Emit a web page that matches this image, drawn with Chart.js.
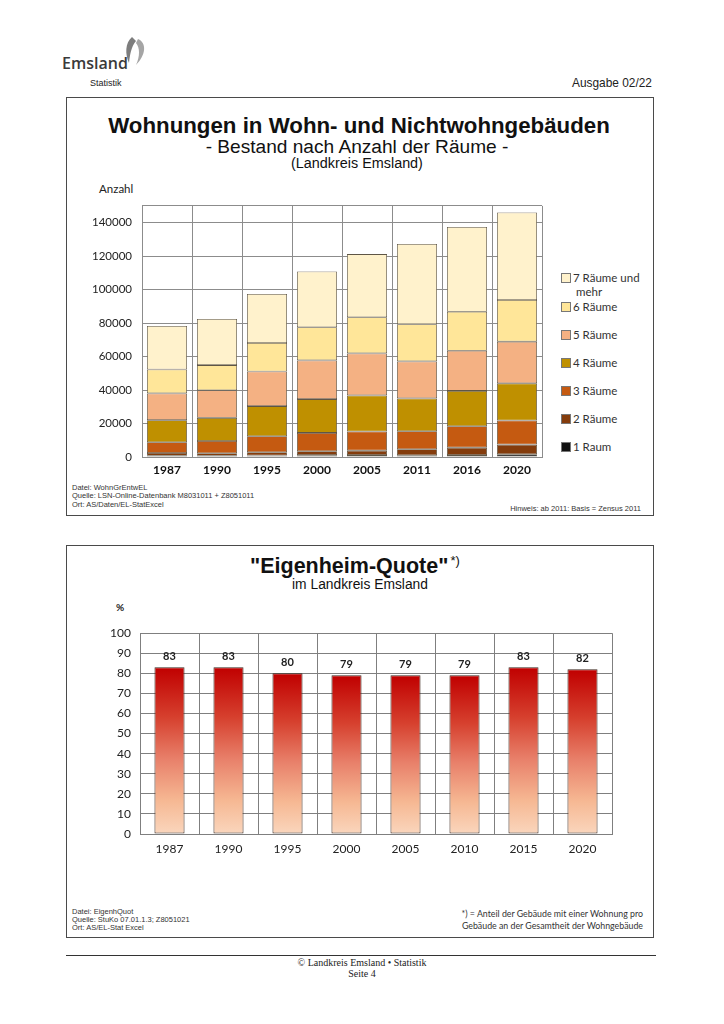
<!DOCTYPE html>
<html><head><meta charset="utf-8">
<script src="https://cdn.jsdelivr.net/npm/chart.js@4.4.1/dist/chart.umd.min.js"></script>
<style>
html,body{margin:0;padding:0;background:#fff;}
body{width:724px;height:1024px;position:relative;overflow:hidden;font-family:"Liberation Sans",Arial,sans-serif;color:#111;}
.t{position:absolute;white-space:nowrap;line-height:1;}
.frame{position:absolute;border:1.5px solid #4a4a4a;box-sizing:border-box;}
canvas{position:absolute;}
.leg{position:absolute;left:561px;font-family:Lato,sans-serif;font-size:11.5px;color:#333;line-height:14px;}
.leg .sq{position:absolute;left:0;width:8px;height:8px;border:1px solid #777;}
.leg .tx{position:absolute;left:12px;white-space:nowrap;}
.small{font-size:7.5px;color:#333;}
</style></head>
<body>
<!-- header -->
<svg class="t" style="left:119px;top:36px" width="28" height="34" viewBox="0 0 28 34">
  <path d="M13 1 C6 7 6 18 10 27 C11 19 12 11 17 5 Z" fill="#7d7d7d"/>
  <path d="M19 3 C28 7 27 19 17 29 C21 20 21 12 17 7 Z" fill="#a5a5a5"/>
</svg>
<div class="t fit" data-w="66" data-cy="63" style="left:62px;font-family:'Open Sans',sans-serif;font-weight:600;font-size:18px;color:#3a3a3a;">Emsland</div>
<div class="t" style="left:90px;top:79px;font-size:9px;color:#222;">Statistik</div>
<div class="t fit" data-w="80" data-cy="84" style="left:572px;font-size:12px;color:#222;">Ausgabe 02/22</div>

<!-- chart 1 -->
<div class="frame" style="left:66px;top:97px;width:588px;height:419px;"></div>
<div class="t fitc" data-w="502" data-cx="359" data-cy="126" style="font-weight:bold;font-size:22px;">Wohnungen in Wohn- und Nichtwohngebäuden</div>
<div class="t fitc" data-w="303" data-cx="357" data-cy="147" style="font-size:17px;">- Bestand nach Anzahl der Räume -</div>
<div class="t fitc" data-w="132" data-cx="357" data-cy="163.5" style="font-size:13px;">(Landkreis Emsland)</div>
<div class="t" style="left:99px;top:183px;font-family:Lato,sans-serif;font-size:11.5px;color:#222;">Anzahl</div>
<canvas id="c1" width="480" height="291" style="left:70px;top:189px;"></canvas>
<div id="legend1"></div>
<div class="t small" style="left:72px;top:484px;">Datei: WohnGrEntwEL</div>
<div class="t small" style="left:72px;top:492px;">Quelle: LSN-Online-Datenbank M8031011 + Z8051011</div>
<div class="t small" style="left:72px;top:501px;">Ort: AS/Daten/EL-StatExcel</div>
<div class="t small" style="right:83px;top:505px;">Hinweis: ab 2011: Basis = Zensus 2011</div>

<!-- chart 2 -->
<div class="frame" style="left:66px;top:545px;width:588px;height:393px;"></div>
<div class="t" id="t2" style="left:250px;top:556px;font-weight:bold;font-size:21.5px;">"Eigenheim-Quote"<span style="font-size:13px;font-weight:normal;position:relative;top:-8px;margin-left:2px;">*)</span></div>
<div class="t fitc" data-w="136" data-cx="360" data-cy="585" style="font-size:13px;">im Landkreis Emsland</div>
<div class="t" style="left:116px;top:602px;font-family:Lato,sans-serif;font-size:10px;font-weight:bold;color:#222;">%</div>
<canvas id="c2" width="560" height="248" style="left:70px;top:617px;"></canvas>
<div class="t small" style="left:72px;top:908px;">Datei: EigenhQuot</div>
<div class="t small" style="left:72px;top:916px;">Quelle: StuKo 07.01.1.3; Z8051021</div>
<div class="t small" style="left:72px;top:924px;">Ort: AS/EL-Stat Excel</div>
<div class="t" style="right:81px;top:910px;font-family:Lato,sans-serif;font-size:8.8px;color:#333;">*) = Anteil der Gebäude mit einer Wohnung pro</div>
<div class="t" style="right:81px;top:922px;font-family:Lato,sans-serif;font-size:8.8px;color:#333;">Gebäude an der Gesamtheit der Wohngebäude</div>

<!-- page footer -->
<div style="position:absolute;left:66px;top:955px;width:590px;height:1px;background:#333;"></div>
<div class="t" style="left:0;width:724px;text-align:center;top:958px;font-family:'Liberation Serif',serif;font-size:10px;color:#222;">© Landkreis Emsland • Statistik</div>
<div class="t" style="left:0;width:724px;text-align:center;top:969px;font-family:'Liberation Serif',serif;font-size:10px;color:#222;">Seite 4</div>

<script>
// ---------- data: chart 1 ----------
const years1 = ['1987','1990','1995','2000','2005','2011','2016','2020'];
const seriesLabels = ['1 Raum','2 Räume','3 Räume','4 Räume','5 Räume','6 Räume','7 Räume und mehr'];
const raum1 = [700, 700, 900, 1100, 1200, 1000, 1200, 1600];
const raum2 = [1700, 1500, 1900, 2300, 2600, 3600, 4400, 5800];
const raum3 = [6400, 7400, 9600, 11000, 11400, 10800, 12800, 14400];
const raum4 = [13200, 13800, 18000, 20200, 21600, 19600, 21100, 22200];
const raum5 = [16000, 16500, 20700, 23100, 25100, 22100, 24000, 24900];
const raum6 = [14300, 15000, 17000, 19800, 21600, 22200, 23300, 24900];
const raum7 = [26000, 27500, 29300, 33300, 37700, 47900, 50600, 52300];
const yTicks1 = [0, 20000, 40000, 60000, 80000, 100000, 120000, 140000];
const yMax1 = 150000;

// ---------- data: chart 2 ----------
const years2 = ['1987','1990','1995','2000','2005','2010','2015','2020'];
const quote = [83, 83, 80, 79, 79, 79, 83, 82];

// ---------- styles ----------
const seriesColors = ['#111111','#843c0c','#c55a11','#bf9000','#f4b183','#ffe699','#fff2cc'];

// fit text widths / centre positions
document.querySelectorAll('.fit,.fitc').forEach(el=>{
  const w = parseFloat(el.dataset.w);
  const fs = parseFloat(getComputedStyle(el).fontSize);
  const cw = el.getBoundingClientRect().width;
  el.style.fontSize = (fs*w/cw)+'px';
  const r = el.getBoundingClientRect();
  if (el.classList.contains('fitc')) el.style.left = (parseFloat(el.dataset.cx) - r.width/2)+'px';
  if (el.dataset.cy) el.style.top = (parseFloat(el.dataset.cy) - r.height/2)+'px';
});

Chart.defaults.font.family = 'Lato, sans-serif';

const seriesData = [raum1,raum2,raum3,raum4,raum5,raum6,raum7];
new Chart(document.getElementById('c1'), {
  type:'bar',
  data:{ labels: years1, datasets: seriesData.map((d,i)=>({
    label: seriesLabels[i], data: d, backgroundColor: seriesColors[i],
    borderColor:'#5f5646', borderWidth:0.8, borderSkipped:false,
    barPercentage:0.8, categoryPercentage:1.0 })) },
  options:{
    responsive:false, animation:false, devicePixelRatio:1,
    layout:{padding:{top:0,right:8,left:0,bottom:0}},
    plugins:{legend:{display:false}, tooltip:{enabled:false}},
    scales:{
      x:{ stacked:true, grid:{color:'#8c8c8c', offset:true, drawTicks:false}, border:{color:'#8c8c8c'},
          ticks:{font:{size:12,weight:'bold'}, color:'#111', padding:6},
          afterFit(s){ s.height = 23; } },
      y:{ stacked:true, min:0, max:yMax1,
          afterBuildTicks(s){ s.ticks = yTicks1.concat([yMax1]).map(v=>({value:v})); },
          ticks:{ callback:(v)=> yTicks1.includes(v) ? String(v) : '', font:{size:11.5}, color:'#222', padding:10 },
          grid:{color:'#8c8c8c', drawTicks:false}, border:{color:'#8c8c8c'},
          afterFit(s){ s.width = 72; } }
    }
  }
});

// legend (reversed order, like the reference)
const leg = document.getElementById('legend1');
const legY = [278, 307, 335, 363, 391, 419, 447];
for (let k=0;k<7;k++){
  const i = 6-k;
  const d = document.createElement('div');
  d.className='leg';
  d.style.top = (legY[k]-7)+'px';
  const txt = i===6 ? '7 Räume und<br>&nbsp;mehr' : seriesLabels[i];
  d.innerHTML = '<div class="sq" style="top:2px;background:'+seriesColors[i]+'"></div><div class="tx">'+txt+'</div>';
  leg.appendChild(d);
}

// chart 2
const valueLabels = { id:'valueLabels', afterDatasetsDraw(chart){
  const c = chart.ctx; const meta = chart.getDatasetMeta(0);
  c.save(); c.font = 'bold 11px Lato, sans-serif'; c.fillStyle='#222'; c.textAlign='center'; c.textBaseline='bottom';
  meta.data.forEach((bar,i)=>{ c.fillText(String(quote[i]), bar.x, bar.y-5); });
  c.restore();
}};
new Chart(document.getElementById('c2'), {
  type:'bar',
  data:{ labels: years2, datasets:[{ data: quote,
    backgroundColor:(ctx)=>{
      const ch = ctx.chart; if (!ch.chartArea || ctx.type!=='data') return '#c00000';
      const y = ch.scales.y; const top = y.getPixelForValue(ctx.raw); const bot = y.getPixelForValue(0);
      const g = ch.ctx.createLinearGradient(0, top, 0, bot);
      g.addColorStop(0,'#c00000'); g.addColorStop(0.3,'#d6402e'); g.addColorStop(0.55,'#e8806a');
      g.addColorStop(0.8,'#f6b893'); g.addColorStop(1,'#fad6bd');
      return g;
    },
    borderColor:'#3d2a20', borderWidth:1, borderSkipped:false,
    barPercentage:0.51, categoryPercentage:1.0 }] },
  options:{
    responsive:false, animation:false, devicePixelRatio:1,
    layout:{padding:{top:0,right:18,left:0,bottom:0}},
    plugins:{legend:{display:false}, tooltip:{enabled:false}},
    scales:{
      x:{ grid:{color:'#7f7f7f', offset:true, drawTicks:false}, border:{color:'#7f7f7f'},
          ticks:{font:{size:12}, color:'#222', padding:8}, afterFit(s){ s.height = 31; } },
      y:{ min:0, max:100, ticks:{stepSize:10, font:{size:12}, color:'#222', padding:9},
          grid:{color:'#7f7f7f', drawTicks:false}, border:{color:'#7f7f7f'}, afterFit(s){ s.width = 70; } }
    }
  },
  plugins:[valueLabels]
});
</script>
</body></html>
